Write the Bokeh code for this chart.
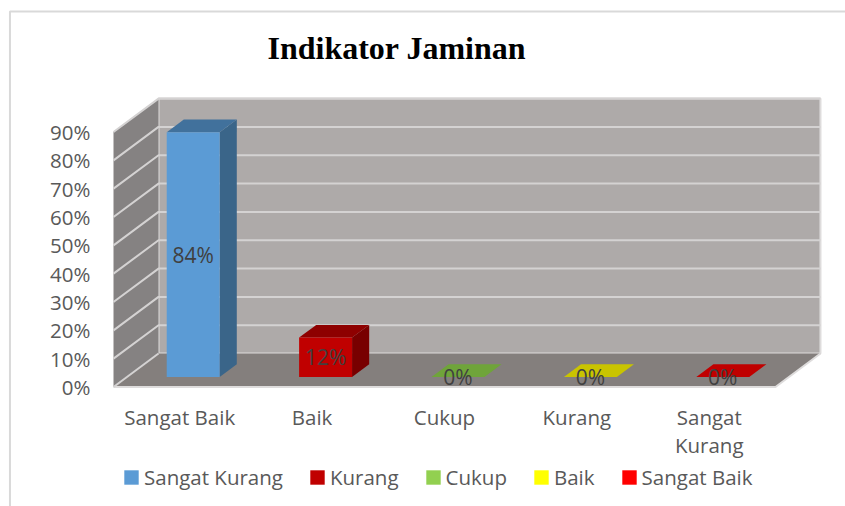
from bokeh.embed import file_html
from bokeh.resources import INLINE
from bokeh.plotting import figure
from bokeh.models import (Range1d, LinearAxis, FixedTicker, NumeralTickFormatter,
                          Legend, LegendItem, Label, ColumnDataSource)
from bokeh.core.properties import value

# ---- data
categories = ["Sangat Baik", "Baik", "Cukup", "Kurang", "Sangat\nKurang"]
bar_values = [0.864, 0.139, 0.0, 0.0, 0.0]      # heights against the axis
bar_labels = ["84%", "12%", "0%", "0%", "0%"]   # labels as printed
front_colors = ["#5B9BD5", "#C00000", "#70AD47", "#FFFF00", "#FF0000"]
top_colors = ["#41719C", "#8E0000", "#6FA43A", "#C9C400", "#C00000"]
side_colors = ["#3A6589", "#780000", "#507E32", "#A0A000", "#A00000"]
y_ticks = [0.0, 0.1, 0.2, 0.3, 0.4, 0.5, 0.6, 0.7, 0.8, 0.9]
legend_names = ["Sangat Kurang", "Kurang", "Cukup", "Baik", "Sangat Baik"]
legend_colors = ["#5B9BD5", "#C00000", "#92D050", "#FFFF00", "#FF0000"]
title_text = "Indikator Jaminan"

# ---- oblique projection of the 3-D chart, in data units
DEPTH_X = 0.34    # shift in categories of the back wall
DEPTH_Y = 0.118   # shift in value of the back wall
BAR_D0, BAR_D1 = 0.30, 0.68
N = len(categories)
Y_MAX = y_ticks[-1]

TEXT = "#595959"
FONT = "Open Sans"
SIZE = "20.5px"

p = figure(width=845, height=506, output_backend="svg", toolbar_location=None,
           x_range=Range1d(-0.8535, 5.529), y_range=Range1d(-0.4218, 1.3642),
           min_border=0, x_axis_type=None, y_axis_type=None,
           background_fill_color="white", border_fill_color="white",
           outline_line_color=None)
p.xgrid.visible = False
p.ygrid.visible = False


def pr(x, y, d):
    return x + d * DEPTH_X, y + d * DEPTH_Y


def poly(points):
    return [c[0] for c in points], [c[1] for c in points]


# chart frame
p.line([-0.782, -0.782, 5.6], [-0.5, 1.3254, 1.3254], line_color="#D9D9D9", line_width=2)

# walls and floor
EDGE = "#DEDCDC"
wx, wy = poly([pr(0, 0, 1), pr(N, 0, 1), pr(N, Y_MAX, 1), pr(0, Y_MAX, 1)])
p.patch(wx, wy, fill_color="#AEAAA9", line_color=EDGE, line_width=2)
lx, ly = poly([pr(0, 0, 0), pr(0, 0, 1), pr(0, Y_MAX, 1), pr(0, Y_MAX, 0)])
p.patch(lx, ly, fill_color="#858282", line_color=None)
fx, fy = poly([pr(0, 0, 0), pr(N, 0, 0), pr(N, 0, 1), pr(0, 0, 1)])
p.patch(fx, fy, fill_color="#847F7D", line_color=None)
p.line(*poly([pr(0, 0, 0), pr(N, 0, 0), pr(N, 0, 1)]), line_color=EDGE, line_width=2)

# gridlines on both walls
for t in y_ticks[1:]:
    p.line(*poly([pr(0, t, 0), pr(0, t, 1), pr(N, t, 1)]), line_color="#D4D2D2", line_width=2)
p.line(*poly([pr(0, 0, 0), pr(0, 0, 1)]), line_color="#D4D2D2", line_width=2)

# bars: side, top, front
lefts = [i + 0.3 for i in range(N)]
rights = [i + 0.7 for i in range(N)]
side_x, side_y, top_x, top_y = [], [], [], []
for a, b, v in zip(lefts, rights, bar_values):
    sx, sy = poly([pr(b, 0, BAR_D0), pr(b, 0, BAR_D1), pr(b, v, BAR_D1), pr(b, v, BAR_D0)])
    tx, ty = poly([pr(a, v, BAR_D0), pr(b, v, BAR_D0), pr(b, v, BAR_D1), pr(a, v, BAR_D1)])
    side_x.append(sx); side_y.append(sy); top_x.append(tx); top_y.append(ty)
p.patches(side_x, side_y, fill_color=side_colors, line_color=None)
p.patches(top_x, top_y, fill_color=top_colors, line_color=None)
fl = [pr(a, 0, BAR_D0)[0] for a in lefts]
fr = [pr(b, 0, BAR_D0)[0] for b in rights]
fb = [pr(0, 0, BAR_D0)[1]] * N
ft = [pr(0, v, BAR_D0)[1] for v in bar_values]
p.quad(left=fl, right=fr, bottom=fb, top=ft, fill_color=front_colors, line_color=None)

# data labels at the middle of each front face
src = ColumnDataSource(dict(x=[(a + b) / 2 for a, b in zip(fl, fr)],
                            y=[(a + b) / 2 for a, b in zip(fb, ft)],
                            t=bar_labels))
p.text("x", "y", text="t", source=src, text_align="center", text_baseline="middle",
       text_font=value(FONT), text_font_size="21px", text_color="#404040")

# axes sitting on the front edge of the chart
xaxis = LinearAxis(fixed_location=0,
                   ticker=FixedTicker(ticks=[i + 0.5 for i in range(N)]),
                   major_label_overrides={i + 0.5: c for i, c in enumerate(categories)})
yaxis = LinearAxis(fixed_location=0, ticker=FixedTicker(ticks=y_ticks),
                   formatter=NumeralTickFormatter(format="0%"))
for ax, standoff in ((xaxis, 10), (yaxis, 17)):
    ax.axis_line_color = None
    ax.major_tick_line_color = None
    ax.minor_tick_line_color = None
    ax.major_label_text_font = FONT
    ax.major_label_text_font_size = SIZE
    ax.major_label_text_color = TEXT
    ax.major_label_standoff = standoff
xaxis.major_label_text_line_height = 1.0
p.add_layout(xaxis, "below")
p.add_layout(yaxis, "left")

# legend with its own swatches
nan = float("nan")
items = []
for name, col in zip(legend_names, legend_colors):
    r = p.quad(left=[nan], right=[nan], bottom=[nan], top=[nan], fill_color=col, line_color=None)
    items.append(LegendItem(label=value(name), renderers=[r]))
legend = Legend(items=items, orientation="horizontal", location=(122, 15),
                glyph_width=18, glyph_height=18, label_standoff=4, spacing=25,
                padding=0, margin=0, border_line_color=None, background_fill_alpha=0,
                label_text_font=FONT, label_text_font_size=SIZE, label_text_color=TEXT)
p.add_layout(legend, "center")

p.add_layout(Label(x=2.14, y=1.195, text=title_text, text_align="center", text_baseline="middle",
                   text_font="Liberation Serif", text_font_style="bold",
                   text_font_size="32px", text_color="black"))

open("out.html", "w").write(file_html(p, INLINE))
